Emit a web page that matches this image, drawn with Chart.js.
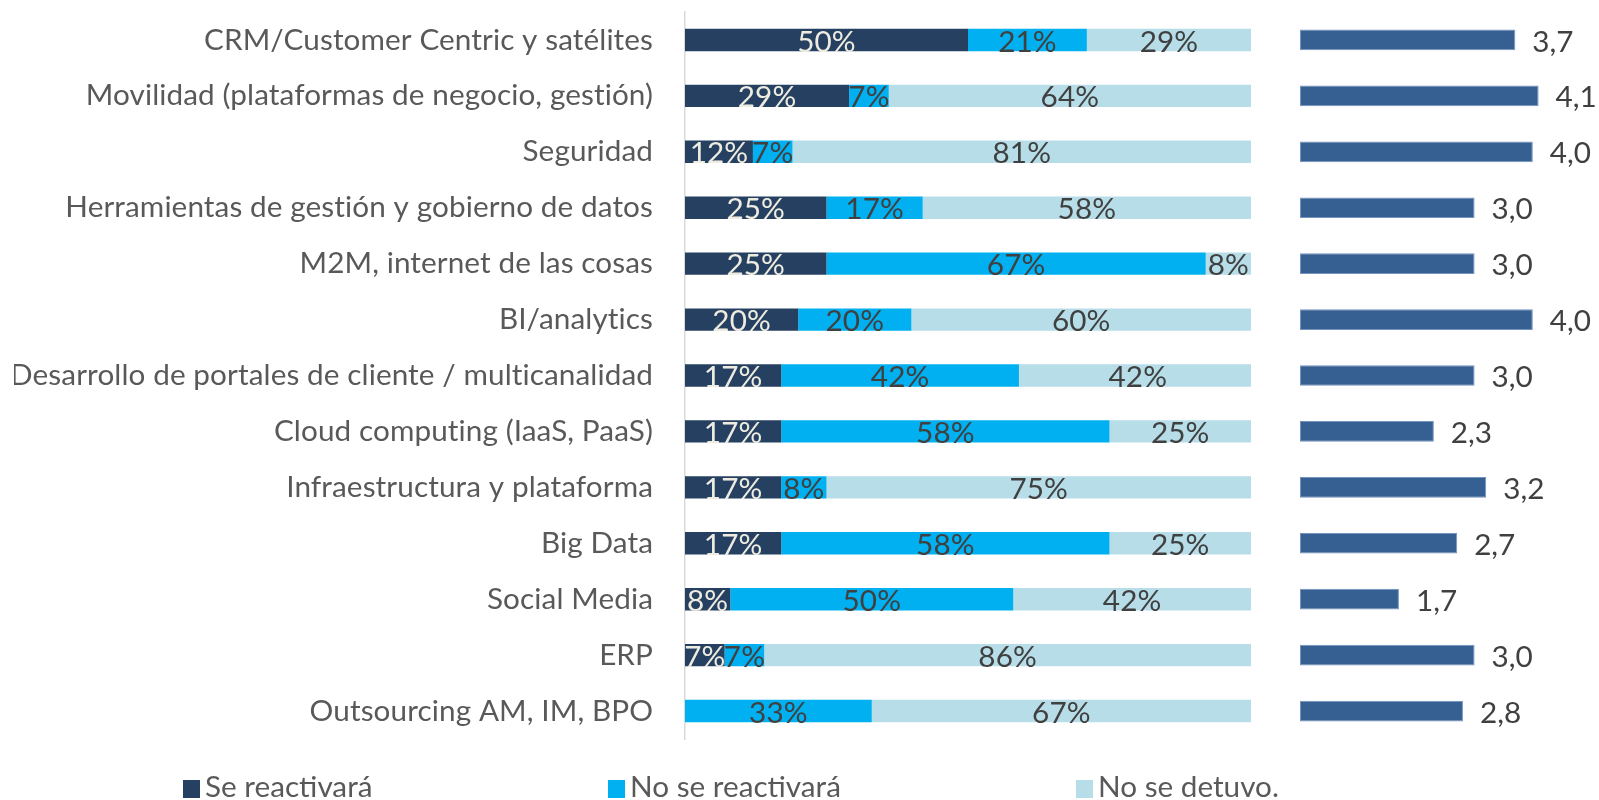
<!DOCTYPE html>
<html>
<head>
<meta charset="utf-8">
<script src="https://cdn.jsdelivr.net/npm/chart.js@4"></script>
<style>
  html, body { margin: 0; padding: 0; background: #fff; overflow: hidden; }
  #wrap { position: relative; width: 1599px; height: 800px; }
  #cIzq { position: absolute; left: 0; top: 0; }
  #cDer { position: absolute; left: 1280px; top: 0; }
  .leyenda { position: absolute; top: 768px; height: 40px; line-height: 38px; color: #595959; white-space: nowrap; font-variant-ligatures: none; }
  .leyenda span.cuadro { display: inline-block; width: 17px; height: 18px; margin-right: 5px; vertical-align: -1px; }
</style>
</head>
<body>
<div id="wrap">
  <canvas id="cIzq" width="1262" height="800"></canvas>
  <canvas id="cDer" width="319" height="800"></canvas>
  <div id="leyenda"></div>
</div>
<script>
const categorias = [
  "CRM/Customer Centric y satélites",
  "Movilidad (plataformas de negocio, gestión)",
  "Seguridad",
  "Herramientas de gestión y gobierno de datos",
  "M2M, internet de las cosas",
  "BI/analytics",
  "Desarrollo de portales de cliente / multicanalidad",
  "Cloud computing (IaaS, PaaS)",
  "Infraestructura y plataforma",
  "Big Data",
  "Social Media",
  "ERP",
  "Outsourcing AM, IM, BPO"
];
const seReactivara   = [50, 29, 12, 25, 25, 20, 17, 17, 17, 17, 8, 7, 0];
const noSeReactivara = [21, 7, 7, 17, 67, 20, 42, 58, 8, 58, 50, 7, 33];
const noSeDetuvo     = [29, 64, 81, 58, 8, 60, 42, 25, 75, 25, 42, 86, 67];
const valoracion     = [3.7, 4.1, 4.0, 3.0, 3.0, 4.0, 3.0, 2.3, 3.2, 2.7, 1.7, 3.0, 2.8];
const series = ["Se reactivará", "No se reactivará", "No se detuvo."];

const colores = ["#264061", "#00b0f0", "#b7dee8"];
const colorTexto = ["#eeece1", "#404040", "#404040"];

// tamaño de fuente para que la etiqueta mas larga ocupe lo mismo que en el original
const familia = "Lato, 'Open Sans', sans-serif";
const ctxMedir = document.createElement("canvas").getContext("2d");
ctxMedir.font = "30px " + familia;
let maxAncho = 0;
categorias.forEach(c => { maxAncho = Math.max(maxAncho, ctxMedir.measureText(c).width); });
const tamFuente = Math.round(30 * 639 / maxAncho * 10) / 10;

// sin ligaduras (la "ti" de Lato)
const sinLigaduras = {
  id: "sinLigaduras",
  beforeDraw(chart) { chart.ctx.letterSpacing = "0.1px"; }
};

const etiquetasPct = {
  id: "etiquetasPct",
  afterDatasetsDraw(chart) {
    const ctx = chart.ctx;
    ctx.save();
    ctx.font = tamFuente + "px " + familia;
    ctx.textAlign = "center";
    ctx.textBaseline = "middle";
    chart.data.datasets.forEach((ds, i) => {
      chart.getDatasetMeta(i).data.forEach((bar, j) => {
        const v = ds.data[j];
        if (!v) return;
        ctx.fillStyle = colorTexto[i];
        ctx.fillText(v + "%", (bar.x + bar.base) / 2, bar.y + 2);
      });
    });
    ctx.restore();
  }
};

const etiquetasVal = {
  id: "etiquetasVal",
  afterDatasetsDraw(chart) {
    const ctx = chart.ctx;
    ctx.save();
    ctx.font = tamFuente + "px " + familia;
    ctx.textAlign = "left";
    ctx.textBaseline = "middle";
    ctx.fillStyle = "#404040";
    chart.getDatasetMeta(0).data.forEach((bar, j) => {
      ctx.fillText(valoracion[j].toFixed(1).replace(".", ","), bar.x + 17, bar.y + 2);
    });
    ctx.restore();
  }
};

new Chart(document.getElementById("cIzq"), {
  type: "bar",
  data: {
    labels: categorias,
    datasets: [
      { label: series[0], data: seReactivara, backgroundColor: colores[0] },
      { label: series[1], data: noSeReactivara, backgroundColor: colores[1] },
      { label: series[2], data: noSeDetuvo, backgroundColor: colores[2] }
    ]
  },
  options: {
    indexAxis: "y",
    responsive: false,
    animation: false,
    barPercentage: 0.4,
    categoryPercentage: 1,
    layout: { padding: { left: 14, right: 11, top: 12, bottom: 61 } },
    plugins: { legend: { display: false }, tooltip: { enabled: false } },
    scales: {
      x: { stacked: true, min: 0, max: 100, display: false },
      y: {
        stacked: true,
        grid: { display: false, drawTicks: false, tickLength: 0 },
        border: { display: true, color: "#d9d9d9", width: 1.5 },
        ticks: { color: "#595959", padding: 32, font: { family: familia, size: tamFuente } },
        afterFit: (axis) => {
          axis.width = 685 - 14;
          axis.paddingTop = 0;
          axis.paddingBottom = 0;
        }
      }
    }
  },
  plugins: [sinLigaduras, etiquetasPct]
});

new Chart(document.getElementById("cDer"), {
  type: "bar",
  data: {
    labels: categorias,
    datasets: [
      { label: "Valoración", data: valoracion, backgroundColor: "#366092", borderColor: "#7394c0", borderWidth: 1, borderSkipped: false }
    ]
  },
  options: {
    indexAxis: "y",
    responsive: false,
    animation: false,
    barPercentage: 0.37,
    categoryPercentage: 1,
    layout: { padding: { left: 20, right: 8, top: 12, bottom: 61 } },
    plugins: { legend: { display: false }, tooltip: { enabled: false } },
    scales: {
      x: { min: 0, max: 5, display: false },
      y: { display: false }
    }
  },
  plugins: [etiquetasVal]
});

// leyenda
const posLeyenda = [183, 608, 1076];
const cont = document.getElementById("leyenda");
series.forEach((s, i) => {
  const d = document.createElement("div");
  d.className = "leyenda";
  d.style.left = posLeyenda[i] + "px";
  d.style.font = tamFuente + "px " + familia;
  d.innerHTML = '<span class="cuadro" style="background:' + colores[i] + '"></span>' + s;
  cont.appendChild(d);
});
</script>
</body>
</html>
